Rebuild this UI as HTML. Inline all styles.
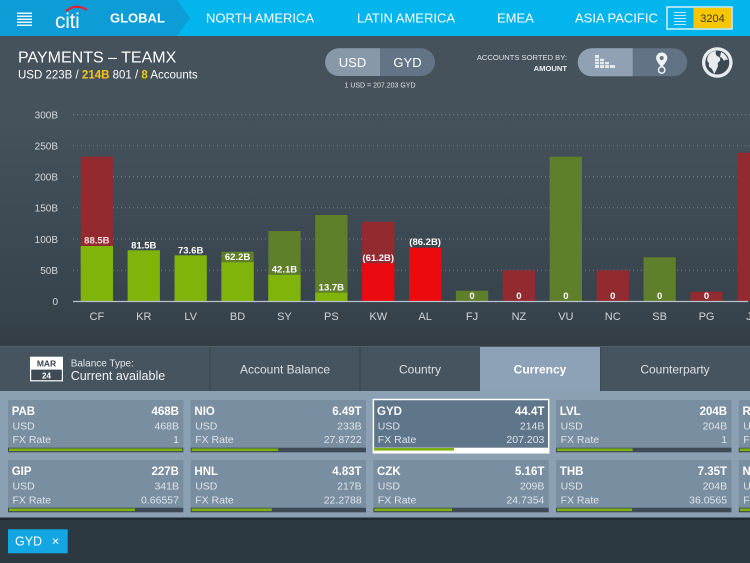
<!DOCTYPE html>
<html><head><meta charset="utf-8"><style>
html,body{margin:0;padding:0;width:750px;height:563px;overflow:hidden;background:#2d3941}
svg{display:block;font-family:"Liberation Sans",Arial,sans-serif}
</style></head><body>
<svg width="750" height="563" viewBox="0 0 750 563" xmlns="http://www.w3.org/2000/svg">
<defs>
<linearGradient id="bg" x1="0" y1="36" x2="0" y2="346" gradientUnits="userSpaceOnUse">
<stop offset="0" stop-color="#45515b"/><stop offset="0.25" stop-color="#45525c"/><stop offset="0.9" stop-color="#37434c"/><stop offset="1" stop-color="#323d46"/>
</linearGradient>
</defs>
<rect x="0" y="0" width="750" height="563" fill="#2d3941"/>
<rect x="0" y="36" width="750" height="310" fill="url(#bg)"/>

<!-- NAV -->
<rect x="0" y="0" width="750" height="36" fill="#02b5ed"/>
<polygon points="0,0 177,0 190,18 177,36 0,36" fill="#0e9cd6"/>
<g fill="#e8f6fc">
<rect x="17" y="12.5" width="15" height="1.5"/><rect x="17" y="15.5" width="15" height="1.5"/><rect x="17" y="18.5" width="15" height="1.5"/><rect x="17" y="21.5" width="15" height="1.5"/><rect x="17" y="24.5" width="15" height="1.5"/>
</g>
<text x="55" y="28" font-size="21" fill="#ffffff" letter-spacing="-0.3">citi</text>
<path d="M66,11 Q76,3 87,10" stroke="#e5202e" stroke-width="2.2" fill="none"/>
<text x="110" y="22.5" font-size="13" font-weight="bold" fill="#ffffff">GLOBAL</text>
<text x="206" y="22.5" font-size="13" fill="#ffffff">NORTH AMERICA</text>
<text x="357" y="22.5" font-size="13" fill="#ffffff">LATIN AMERICA</text>
<text x="497" y="22.5" font-size="13" fill="#ffffff">EMEA</text>
<text x="575" y="22.5" font-size="13" fill="#ffffff">ASIA PACIFIC</text>
<rect x="667" y="7" width="65" height="22" fill="#02b5ed" stroke="#d6f2fc" stroke-width="1.5"/>
<rect x="693.5" y="7.8" width="37.7" height="20.4" fill="#f7c600"/>
<g fill="#bfe9f9"><rect x="674" y="12" width="12" height="1"/><rect x="674" y="15" width="12" height="1"/><rect x="674" y="18" width="12" height="1"/><rect x="674" y="21" width="12" height="1"/><rect x="674" y="24" width="12" height="1"/></g>
<text x="712.5" y="22" font-size="11" fill="#3a3a2a" text-anchor="middle">3204</text>

<!-- HEADER -->
<text x="18" y="62.3" font-size="16" fill="#ffffff">PAYMENTS – TEAMX</text>
<text x="18" y="78.3" font-size="11.5" fill="#ffffff">USD 223B / <tspan fill="#f5c518" font-weight="bold">214B</tspan> 801 / <tspan fill="#f5c518" font-weight="bold">8</tspan> Accounts</text>

<rect x="325" y="48.3" width="110" height="27.7" rx="13.8" fill="#627486"/>
<path d="M339,48.3 H380 V76 H339 A13.85,13.85 0 0 1 339,48.3 Z" fill="#8798a9"/>
<text x="352.5" y="67" font-size="13" fill="#ffffff" text-anchor="middle">USD</text>
<text x="407.5" y="67" font-size="13" fill="#ffffff" text-anchor="middle">GYD</text>
<text x="380" y="87.5" font-size="7" fill="#e0e5ea" text-anchor="middle">1 USD = 207.203 GYD</text>

<text x="567" y="60" font-size="7.6" fill="#dde2e7" text-anchor="end">ACCOUNTS SORTED BY:</text>
<text x="567" y="71" font-size="7.6" font-weight="bold" fill="#eef1f4" text-anchor="end">AMOUNT</text>

<rect x="577.7" y="48.3" width="109.6" height="28" rx="14" fill="#617385"/>
<path d="M591.7,48.3 H632.7 V76.3 H591.7 A14,14 0 0 1 591.7,48.3 Z" fill="#8fa1b3"/>
<g fill="#e4e9ee">
<rect x="595" y="55" width="4" height="13"/><rect x="600" y="58" width="4" height="10"/><rect x="605" y="62" width="4" height="6"/><rect x="610" y="65" width="5" height="3"/>
</g>
<g stroke="#8fa1b3" stroke-width="0.8"><line x1="594" y1="58.5" x2="616" y2="58.5"/><line x1="594" y1="61.5" x2="616" y2="61.5"/><line x1="594" y1="64.5" x2="616" y2="64.5"/></g>
<path d="M661.7,52.5 a5.6,5.6 0 0 1 5.6,5.6 c0,3.5 -5.6,9 -5.6,9 c0,0 -5.6,-5.5 -5.6,-9 a5.6,5.6 0 0 1 5.6,-5.6 z" fill="#f1f4f6"/>
<circle cx="661.7" cy="58" r="2" fill="#617385"/>
<circle cx="661.7" cy="70" r="3.2" fill="none" stroke="#f1f4f6" stroke-width="1.5"/>

<circle cx="717.3" cy="62.5" r="15.3" fill="#e9ecef"/>
<circle cx="717.3" cy="62.5" r="12" fill="#3d4952"/>
<path d="M708,56 q3,-5 8,-5 q-1,3 1,5 q4,1 3,5 q-3,1 -2,5 q-2,5 -4,8 q-1,-4 -3,-6 q-3,-1 -2,-5 q-3,-2 -1,-7z" fill="#e9ecef"/>
<path d="M721,52 q5,2 7,8 q-3,-1 -4,1 q-2,-4 -4,-4z" fill="#e9ecef"/>

<!-- CHART GRID -->
<g stroke="#76818b" stroke-width="1" stroke-dasharray="1 3">
<line x1="73" y1="114.7" x2="750" y2="114.7"/>
<line x1="73" y1="145.7" x2="750" y2="145.7"/>
<line x1="73" y1="176.7" x2="750" y2="176.7"/>
<line x1="73" y1="207.8" x2="750" y2="207.8"/>
<line x1="73" y1="239" x2="750" y2="239"/>
<line x1="73" y1="270.3" x2="750" y2="270.3"/>
</g>
<g font-size="10" fill="#d3d8dd" text-anchor="end">
<text x="58" y="118.5">300B</text>
<text x="58" y="149.5">250B</text>
<text x="58" y="180.5">200B</text>
<text x="58" y="211.6">150B</text>
<text x="58" y="242.8">100B</text>
<text x="58" y="274.1">50B</text>
<text x="58" y="305.1">0</text>
</g>

<!-- BARS -->
<g>
<rect x="80.7" y="156.7" width="32.3" height="144.6" fill="#922a30"/>
<rect x="80.7" y="246" width="32.3" height="55.3" fill="#80b40a"/>
<rect x="127.6" y="250.3" width="32.3" height="51" fill="#80b40a"/>
<rect x="174.5" y="255.3" width="32.3" height="46" fill="#80b40a"/>
<rect x="221.4" y="251.7" width="32.3" height="49.6" fill="#5f7f2b"/>
<rect x="221.4" y="262.3" width="32.3" height="39" fill="#80b40a"/>
<rect x="268.3" y="231" width="32.3" height="70.3" fill="#5f7f2b"/>
<rect x="268.3" y="275" width="32.3" height="26.3" fill="#80b40a"/>
<rect x="315.2" y="215" width="32.3" height="86.3" fill="#5f7f2b"/>
<rect x="315.2" y="292.7" width="32.3" height="8.6" fill="#80b40a"/>
<rect x="362.1" y="221.7" width="32.3" height="79.6" fill="#922a30"/>
<rect x="362.1" y="263.3" width="32.3" height="38" fill="#ea0a10"/>
<rect x="409" y="247.7" width="32.3" height="53.6" fill="#ea0a10"/>
<rect x="455.9" y="290.7" width="32.3" height="10.6" fill="#5f7f2b"/>
<rect x="502.8" y="270.3" width="32.3" height="31" fill="#922a30"/>
<rect x="549.7" y="156.7" width="32.3" height="144.6" fill="#5f7f2b"/>
<rect x="596.6" y="270.3" width="32.3" height="31" fill="#922a30"/>
<rect x="643.5" y="257.3" width="32.3" height="44" fill="#5f7f2b"/>
<rect x="690.4" y="291.7" width="32.3" height="9.6" fill="#922a30"/>
<rect x="737.3" y="152.7" width="32.3" height="148.6" fill="#922a30"/>
</g>
<line x1="73" y1="301.5" x2="748" y2="301.5" stroke="#b9c1c9" stroke-width="1.3"/>

<g font-size="9.5" font-weight="bold" fill="#ffffff" text-anchor="middle">
<text x="96.85" y="243.3" fill="#f6dede">88.5B</text>
<text x="143.75" y="248.3">81.5B</text>
<text x="190.65" y="253.3">73.6B</text>
<text x="237.55" y="260">62.2B</text>
<text x="284.45" y="272.6">42.1B</text>
<text x="331.35" y="290.6">13.7B</text>
<text x="378.25" y="261">(61.2B)</text>
<text x="425.15" y="245">(86.2B)</text>
<text x="472.05" y="299">0</text>
<text x="518.95" y="299">0</text>
<text x="565.85" y="299">0</text>
<text x="612.75" y="299">0</text>
<text x="659.65" y="299">0</text>
<text x="706.55" y="299">0</text>
</g>
<g font-size="11" fill="#cfd5da" text-anchor="middle">
<text x="96.85" y="320">CF</text>
<text x="143.75" y="320">KR</text>
<text x="190.65" y="320">LV</text>
<text x="237.55" y="320">BD</text>
<text x="284.45" y="320">SY</text>
<text x="331.35" y="320">PS</text>
<text x="378.25" y="320">KW</text>
<text x="425.15" y="320">AL</text>
<text x="472.05" y="320">FJ</text>
<text x="518.95" y="320">NZ</text>
<text x="565.85" y="320">VU</text>
<text x="612.75" y="320">NC</text>
<text x="659.65" y="320">SB</text>
<text x="706.55" y="320">PG</text>
<text x="753.45" y="320">JM</text>
</g>

<!-- TABS -->
<rect x="0" y="346" width="750" height="45" fill="#46545f"/>
<line x1="0" y1="346.5" x2="750" y2="346.5" stroke="#4f5e69" stroke-width="1"/>
<line x1="210" y1="347" x2="210" y2="391" stroke="#3a4650" stroke-width="1.2"/>
<line x1="360" y1="347" x2="360" y2="391" stroke="#3a4650" stroke-width="1.2"/>
<line x1="600" y1="347" x2="600" y2="391" stroke="#3a4650" stroke-width="1.2"/>
<rect x="480" y="347" width="120" height="45" fill="#8da2b6"/>

<rect x="30" y="356.7" width="33" height="12.3" fill="#ffffff"/>
<rect x="30.6" y="369" width="31.8" height="11.8" fill="#3e4b55" stroke="#ffffff" stroke-width="1.2"/>
<text x="46.5" y="366.5" font-size="8.5" font-weight="bold" fill="#3a4650" text-anchor="middle">MAR</text>
<text x="46.5" y="378.3" font-size="8" font-weight="bold" fill="#ffffff" text-anchor="middle">24</text>
<text x="70.7" y="366.5" font-size="10" fill="#e2e7eb">Balance Type:</text>
<text x="70.7" y="380" font-size="12.5" fill="#eef1f4">Current available</text>
<g font-size="12" fill="#dbe1e6" text-anchor="middle">
<text x="285" y="373.5">Account Balance</text>
<text x="420" y="373.5">Country</text>
<text x="675" y="373.5">Counterparty</text>
</g>
<text x="540" y="373.5" font-size="12" font-weight="bold" fill="#ffffff" text-anchor="middle">Currency</text>

<!-- CARDS AREA -->
<rect x="0" y="391" width="750" height="127" fill="#8ca0b4"/>
<rect x="0" y="517.5" width="750" height="2.5" fill="#1f2a31"/>

<!-- Row 1 -->
<g>
<rect x="8" y="400" width="175.3" height="52.3" fill="#7a8ea2"/>
<rect x="8" y="447.7" width="175.3" height="4.6" fill="#3e4b56"/>
<rect x="9" y="448.5" width="173.3" height="2.6" fill="#7db10f"/>
<text x="11.7" y="415" font-size="11.5" font-weight="bold" fill="#ffffff">PAB</text>
<text x="179" y="415" font-size="11.5" font-weight="bold" fill="#ffffff" text-anchor="end">468B</text>
<text x="12.5" y="429.5" font-size="10.5" fill="#dde4ea">USD</text>
<text x="179" y="429.5" font-size="10.5" fill="#dde4ea" text-anchor="end">468B</text>
<text x="12.5" y="443" font-size="10.5" fill="#dde4ea">FX Rate</text>
<text x="179" y="443" font-size="10.5" fill="#dde4ea" text-anchor="end">1</text>
</g>
<g>
<rect x="190.7" y="400" width="175.3" height="52.3" fill="#7a8ea2"/>
<rect x="190.7" y="447.7" width="175.3" height="4.6" fill="#3e4b56"/>
<rect x="191.7" y="448.5" width="86.5" height="2.6" fill="#7db10f"/>
<text x="194.4" y="415" font-size="11.5" font-weight="bold" fill="#ffffff">NIO</text>
<text x="361.7" y="415" font-size="11.5" font-weight="bold" fill="#ffffff" text-anchor="end">6.49T</text>
<text x="195.2" y="429.5" font-size="10.5" fill="#dde4ea">USD</text>
<text x="361.7" y="429.5" font-size="10.5" fill="#dde4ea" text-anchor="end">233B</text>
<text x="195.2" y="443" font-size="10.5" fill="#dde4ea">FX Rate</text>
<text x="361.7" y="443" font-size="10.5" fill="#dde4ea" text-anchor="end">27.8722</text>
</g>
<g>
<rect x="373.4" y="399.5" width="175.3" height="53.3" fill="#5f7589" stroke="#ffffff" stroke-width="1.5"/>
<rect x="374" y="447.7" width="174" height="4.6" fill="#ffffff"/>
<rect x="374" y="448" width="80" height="2.6" fill="#7db10f"/>
<text x="377" y="415" font-size="11.5" font-weight="bold" fill="#ffffff">GYD</text>
<text x="544.4" y="415" font-size="11.5" font-weight="bold" fill="#ffffff" text-anchor="end">44.4T</text>
<text x="377.8" y="429.5" font-size="10.5" fill="#dde4ea">USD</text>
<text x="544.4" y="429.5" font-size="10.5" fill="#dde4ea" text-anchor="end">214B</text>
<text x="377.8" y="443" font-size="10.5" fill="#dde4ea">FX Rate</text>
<text x="544.4" y="443" font-size="10.5" fill="#dde4ea" text-anchor="end">207.203</text>
</g>
<g>
<rect x="556.1" y="400" width="175.3" height="52.3" fill="#7a8ea2"/>
<rect x="556.1" y="447.7" width="175.3" height="4.6" fill="#3e4b56"/>
<rect x="557.1" y="448.5" width="75.5" height="2.6" fill="#7db10f"/>
<text x="559.8" y="415" font-size="11.5" font-weight="bold" fill="#ffffff">LVL</text>
<text x="727.1" y="415" font-size="11.5" font-weight="bold" fill="#ffffff" text-anchor="end">204B</text>
<text x="560.6" y="429.5" font-size="10.5" fill="#dde4ea">USD</text>
<text x="727.1" y="429.5" font-size="10.5" fill="#dde4ea" text-anchor="end">204B</text>
<text x="560.6" y="443" font-size="10.5" fill="#dde4ea">FX Rate</text>
<text x="727.1" y="443" font-size="10.5" fill="#dde4ea" text-anchor="end">1</text>
</g>
<g>
<rect x="738.8" y="400" width="175.3" height="52.3" fill="#7a8ea2"/>
<rect x="738.8" y="447.7" width="175.3" height="4.6" fill="#3e4b56"/>
<rect x="739.8" y="448.5" width="90" height="2.6" fill="#7db10f"/>
<text x="742.5" y="415" font-size="11.5" font-weight="bold" fill="#ffffff">RUB</text>
<text x="743.3" y="429.5" font-size="10.5" fill="#dde4ea">USD</text>
<text x="743.3" y="443" font-size="10.5" fill="#dde4ea">FX Rate</text>
</g>

<!-- Row 2 -->
<g>
<rect x="8" y="460" width="175.3" height="52.3" fill="#7a8ea2"/>
<rect x="8" y="507.7" width="175.3" height="4.6" fill="#3e4b56"/>
<rect x="9" y="508.5" width="126" height="2.6" fill="#7db10f"/>
<text x="11.7" y="475" font-size="11.5" font-weight="bold" fill="#ffffff">GIP</text>
<text x="179" y="475" font-size="11.5" font-weight="bold" fill="#ffffff" text-anchor="end">227B</text>
<text x="12.5" y="489.5" font-size="10.5" fill="#dde4ea">USD</text>
<text x="179" y="489.5" font-size="10.5" fill="#dde4ea" text-anchor="end">341B</text>
<text x="12.5" y="503.3" font-size="10.5" fill="#dde4ea">FX Rate</text>
<text x="179" y="503.3" font-size="10.5" fill="#dde4ea" text-anchor="end">0.66557</text>
</g>
<g>
<rect x="190.7" y="460" width="175.3" height="52.3" fill="#7a8ea2"/>
<rect x="190.7" y="507.7" width="175.3" height="4.6" fill="#3e4b56"/>
<rect x="191.7" y="508.5" width="80" height="2.6" fill="#7db10f"/>
<text x="194.4" y="475" font-size="11.5" font-weight="bold" fill="#ffffff">HNL</text>
<text x="361.7" y="475" font-size="11.5" font-weight="bold" fill="#ffffff" text-anchor="end">4.83T</text>
<text x="195.2" y="489.5" font-size="10.5" fill="#dde4ea">USD</text>
<text x="361.7" y="489.5" font-size="10.5" fill="#dde4ea" text-anchor="end">217B</text>
<text x="195.2" y="503.3" font-size="10.5" fill="#dde4ea">FX Rate</text>
<text x="361.7" y="503.3" font-size="10.5" fill="#dde4ea" text-anchor="end">22.2788</text>
</g>
<g>
<rect x="373.4" y="460" width="175.3" height="52.3" fill="#7a8ea2"/>
<rect x="373.4" y="507.7" width="175.3" height="4.6" fill="#3e4b56"/>
<rect x="374.4" y="508.5" width="77.6" height="2.6" fill="#7db10f"/>
<text x="377" y="475" font-size="11.5" font-weight="bold" fill="#ffffff">CZK</text>
<text x="544.4" y="475" font-size="11.5" font-weight="bold" fill="#ffffff" text-anchor="end">5.16T</text>
<text x="377.8" y="489.5" font-size="10.5" fill="#dde4ea">USD</text>
<text x="544.4" y="489.5" font-size="10.5" fill="#dde4ea" text-anchor="end">209B</text>
<text x="377.8" y="503.3" font-size="10.5" fill="#dde4ea">FX Rate</text>
<text x="544.4" y="503.3" font-size="10.5" fill="#dde4ea" text-anchor="end">24.7354</text>
</g>
<g>
<rect x="556.1" y="460" width="175.3" height="52.3" fill="#7a8ea2"/>
<rect x="556.1" y="507.7" width="175.3" height="4.6" fill="#3e4b56"/>
<rect x="557.1" y="508.5" width="75" height="2.6" fill="#7db10f"/>
<text x="559.8" y="475" font-size="11.5" font-weight="bold" fill="#ffffff">THB</text>
<text x="727.1" y="475" font-size="11.5" font-weight="bold" fill="#ffffff" text-anchor="end">7.35T</text>
<text x="560.6" y="489.5" font-size="10.5" fill="#dde4ea">USD</text>
<text x="727.1" y="489.5" font-size="10.5" fill="#dde4ea" text-anchor="end">204B</text>
<text x="560.6" y="503.3" font-size="10.5" fill="#dde4ea">FX Rate</text>
<text x="727.1" y="503.3" font-size="10.5" fill="#dde4ea" text-anchor="end">36.0565</text>
</g>
<g>
<rect x="738.8" y="460" width="175.3" height="52.3" fill="#7a8ea2"/>
<rect x="738.8" y="507.7" width="175.3" height="4.6" fill="#3e4b56"/>
<rect x="739.8" y="508.5" width="90" height="2.6" fill="#7db10f"/>
<text x="742.5" y="475" font-size="11.5" font-weight="bold" fill="#ffffff">NGN</text>
<text x="743.3" y="489.5" font-size="10.5" fill="#dde4ea">USD</text>
<text x="743.3" y="503.3" font-size="10.5" fill="#dde4ea">FX Rate</text>
</g>

<!-- BOTTOM -->
<rect x="8" y="529.3" width="59.7" height="24" fill="#12a6e2"/>
<text x="15" y="545.5" font-size="12.5" fill="#ffffff">GYD</text>
<text x="55.5" y="545.5" font-size="13" fill="#ffffff" text-anchor="middle">×</text>
</svg>
</body></html>
